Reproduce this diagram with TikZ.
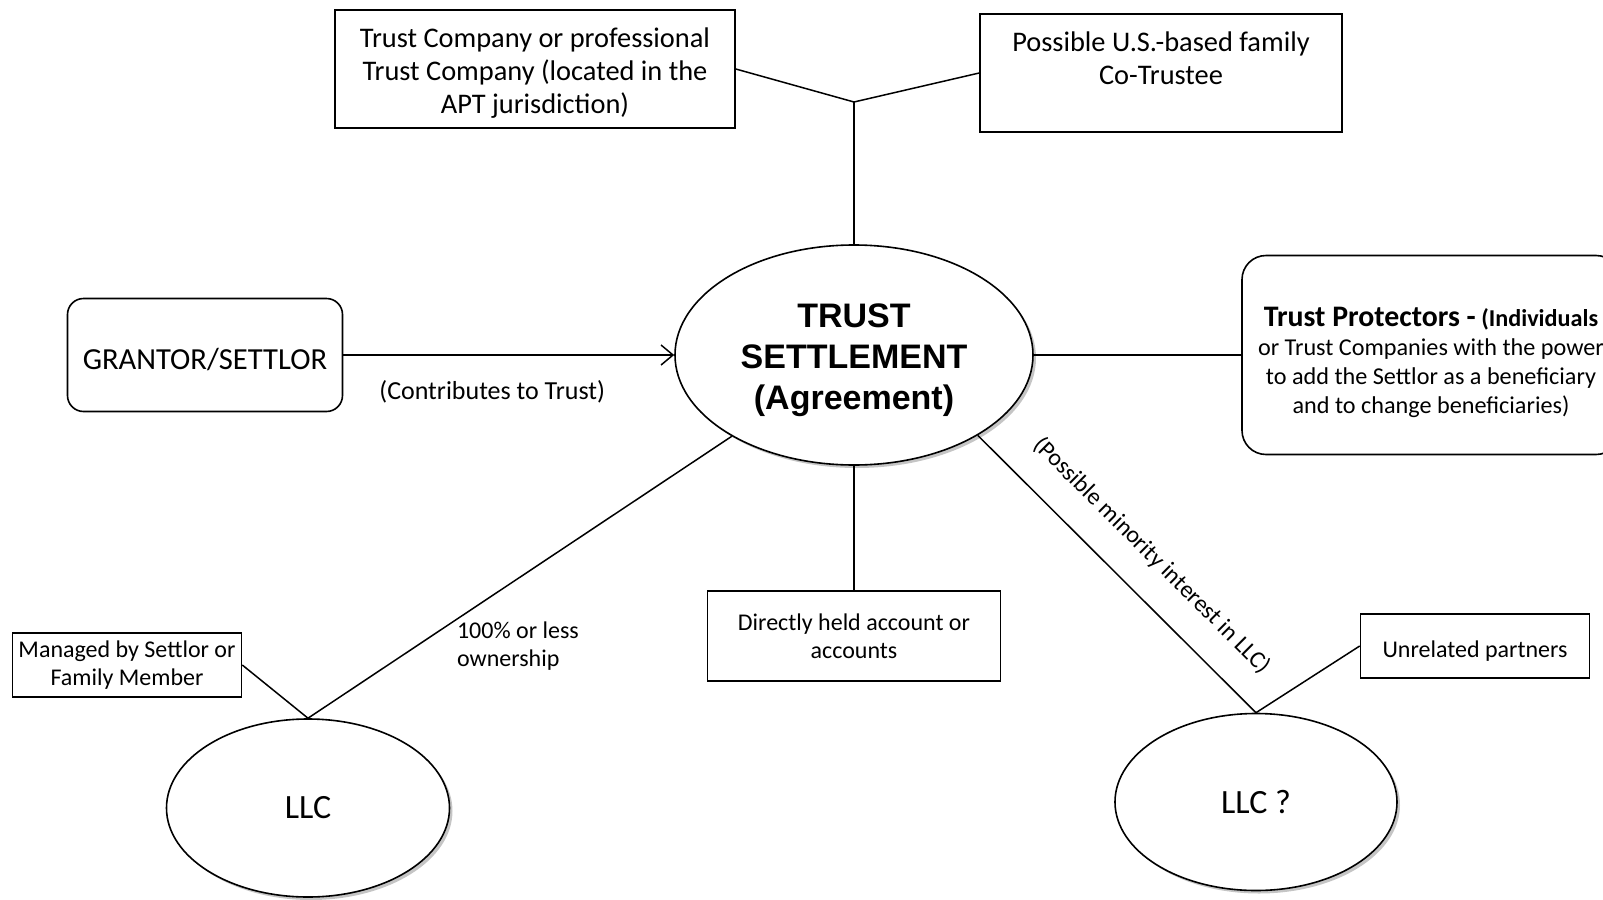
\documentclass[tikz,border=0pt]{standalone}
\usepackage{fontspec}
\setmainfont{Carlito}
\newfontfamily\arialfont{Liberation Sans}
\usetikzlibrary{shapes.geometric,shadows,arrows.meta}

\begin{document}
\begin{tikzpicture}[x=0.5pt,y=-0.5pt,
    tbox/.style={draw, line width=0.8pt, inner sep=1pt, align=center},
    rbox/.style={tbox, rounded corners=8pt},
    obox/.style={draw, ellipse, fill=white, line width=0.8pt, inner sep=0pt, align=center,
        drop shadow={shadow xshift=1.5pt, shadow yshift=-1.5pt, fill=black!45}},
    conn/.style={line width=0.75pt},
    small/.style={font=\fontsize{12}{14}\selectfont}]
    \useasboundingbox (0,0) rectangle (1603,900);
    \clip (0,0) rectangle (1603,900);

    \node[tbox, minimum width=200pt, minimum height=59pt,
        font=\fontsize{14.2}{16.5}\selectfont] (tco) at (535,69)
        {\rule{0pt}{13.7pt}Trust Company or professional\\Trust Company (located in the\\APT jurisdiction)};
    \node[tbox, minimum width=181pt, minimum height=59pt,
        font=\fontsize{14.2}{16.5}\selectfont] (cotr) at (1161,73)
        {\rule{0pt}{16.7pt}Possible U.S.-based family\\Co-Trustee\\\strut};

    \node[obox, minimum width=179pt, minimum height=110pt,
        font=\arialfont\bfseries\fontsize{17}{20.5}\selectfont] (trust) at (854,355)
        {\rule{0pt}{17.2pt}TRUST\\SETTLEMENT\\(Agreement)};

    \node[rbox, minimum width=137.5pt, minimum height=56.5pt,
        font=\fontsize{15.3}{18}\selectfont] (grantor) at (205,355) {\rule{0pt}{15.5pt}GRANTOR/SETTLOR};
    \node[rbox, rounded corners=12pt, minimum width=189pt, minimum height=99.5pt,
        font=\fontsize{12.1}{14.5}\selectfont] (prot) at (1431,355)
        {\rule{0pt}{17.2pt}{\bfseries\fontsize{14.9}{14.5}\selectfont Trust Protectors -} {\bfseries(Individuals}\\or Trust Companies with the power\\to add the Settlor as a beneficiary\\and to change beneficiaries)};

    \node[tbox, small, minimum width=146.5pt, minimum height=45pt] (direct) at (854,636)
        {Directly held account or\\accounts};
    \node[tbox, small, minimum width=114.5pt, minimum height=32pt] (mngd) at (127,665)
        {Managed by Settlor or\\Family Member};
    \node[tbox, small, minimum width=114.5pt, minimum height=32pt] (unrel) at (1475,646)
        {\rule{0pt}{13pt}Unrelated partners};

    \node[obox, minimum width=141.5pt, minimum height=89pt,
        font=\fontsize{17}{20}\selectfont] (llc) at (308,808) {LLC};
    \node[obox, minimum width=141pt, minimum height=88.5pt,
        font=\fontsize{17}{20}\selectfont] (llcq) at (1256,802) {LLC ?};

    \coordinate (jn) at (854,102);
    \draw[conn] (tco.east) -- (jn) -- (cotr.west);
    \draw[conn] (jn) -- (trust);

    \draw[conn, -{Straight Barb[length=6pt,width=10pt]}] (grantor) -- (trust)
        node[pos=0.45, below=9pt, font=\fontsize{13}{15}\selectfont] (contr) {(Contributes to Trust)};
    \draw[conn] (trust) -- (prot);
    \draw[conn] (trust) -- (direct);

    \draw[conn] (trust) -- (llc.north);
    \draw[conn] (mngd.east) -- (llc.north);
    \node[small, align=left, anchor=west] (own) at (450,646) {100\% or less\\ownership};

    \draw[conn] (trust.-33) -- (llcq.north)
        node[pos=0.53, sloped, above=10pt, small] (minor) {(Possible minority interest in LLC)};
    \draw[conn] (unrel.west) -- (llcq.north);
\end{tikzpicture}
\end{document}
